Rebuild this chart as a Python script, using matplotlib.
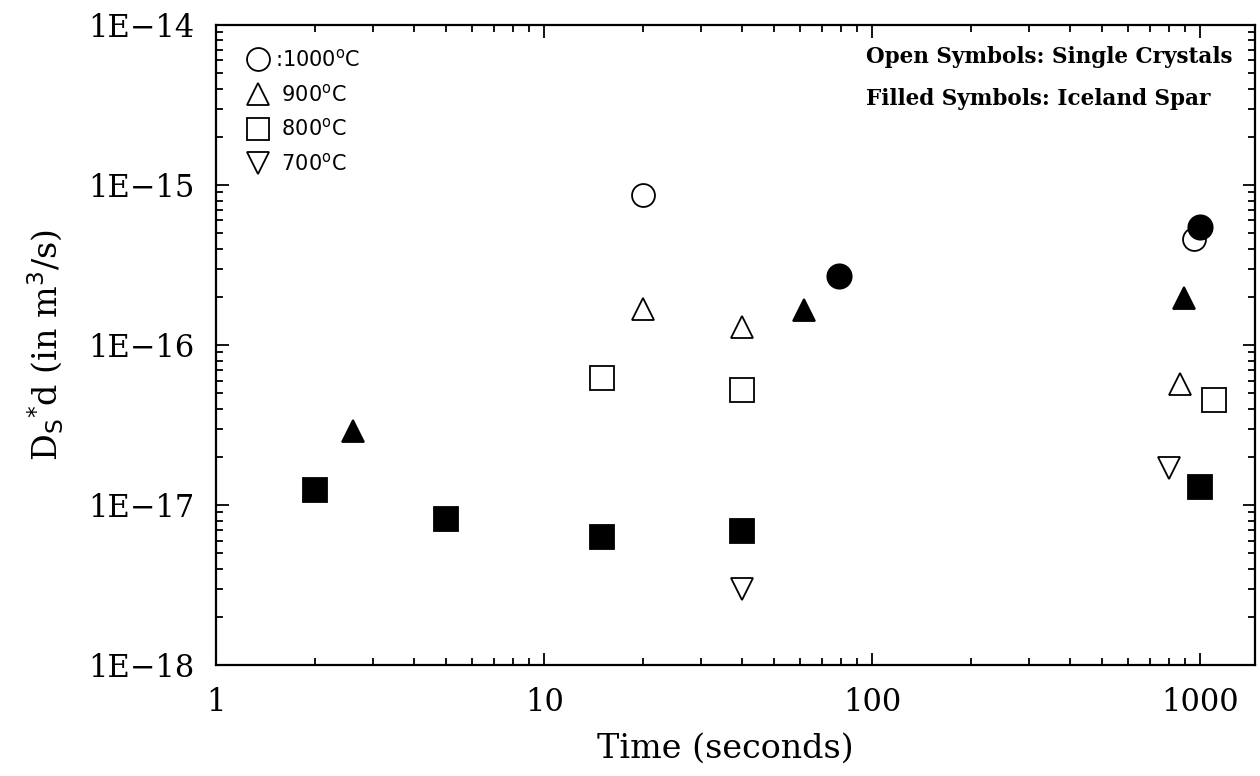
import matplotlib
matplotlib.use("Agg")
import matplotlib.pyplot as plt
from matplotlib.lines import Line2D
from matplotlib.ticker import LogLocator, NullFormatter, FixedLocator, FixedFormatter

# 1000 C
circ_open_t = [20, 955]
circ_open_d = [8.7e-16, 4.6e-16]
circ_fill_t = [79, 1000]
circ_fill_d = [2.7e-16, 5.5e-16]
# 900 C
tri_open_t = [20, 40, 870]
tri_open_d = [1.68e-16, 1.29e-16, 5.7e-17]
tri_fill_t = [2.6, 62, 890]
tri_fill_d = [2.9e-17, 1.66e-16, 1.97e-16]
# 800 C
sq_open_t = [15, 40, 1100]
sq_open_d = [6.2e-17, 5.2e-17, 4.5e-17]
sq_fill_t = [2, 5, 15, 40, 1000]
sq_fill_d = [1.24e-17, 8.2e-18, 6.3e-18, 6.9e-18, 1.3e-17]
# 700 C
dtri_open_t = [40, 800]
dtri_open_d = [3.0e-18, 1.7e-17]

legend_labels = [":1000$^\\mathrm{o}$C", " 900$^\\mathrm{o}$C", " 800$^\\mathrm{o}$C", " 700$^\\mathrm{o}$C"]
xtick_vals = [1, 10, 100, 1000]
xtick_text = ["1", "10", "100", "1000"]
ytick_vals = [1e-18, 1e-17, 1e-16, 1e-15, 1e-14]
ytick_text = ["1E\u221218", "1E\u221217", "1E\u221216", "1E\u221215", "1E\u221214"]

fig = plt.figure(figsize=(12.6, 7.76), dpi=100)
ax = fig.add_axes([0.1718, 0.143, 0.824, 0.8248])

mew = 1.3
ax.plot(circ_open_t, circ_open_d, ls="none", marker="o", ms=16.5, mfc="none", mec="k", mew=mew)
ax.plot(circ_fill_t, circ_fill_d, ls="none", marker="o", ms=17.5, mfc="k", mec="k", mew=mew)
ax.plot(tri_open_t, tri_open_d, ls="none", marker="^", ms=16, mfc="none", mec="k", mew=mew)
ax.plot(tri_fill_t, tri_fill_d, ls="none", marker="^", ms=16.5, mfc="k", mec="k", mew=mew)
ax.plot(sq_open_t, sq_open_d, ls="none", marker="s", ms=17, mfc="none", mec="k", mew=mew)
ax.plot(sq_fill_t, sq_fill_d, ls="none", marker="s", ms=17.5, mfc="k", mec="k", mew=mew)
ax.plot(dtri_open_t, dtri_open_d, ls="none", marker="v", ms=16.5, mfc="none", mec="k", mew=mew)

ax.set_xscale("log")
ax.set_yscale("log")
ax.set_xlim(1, 1465)
ax.set_ylim(1e-18, 1e-14)

ax.xaxis.set_major_locator(FixedLocator(xtick_vals))
ax.xaxis.set_major_formatter(FixedFormatter(xtick_text))
ax.yaxis.set_major_locator(FixedLocator(ytick_vals))
ax.yaxis.set_major_formatter(FixedFormatter(ytick_text))
ax.xaxis.set_minor_locator(LogLocator(base=10, subs=range(2, 10)))
ax.yaxis.set_minor_locator(LogLocator(base=10, subs=range(2, 10)))
ax.xaxis.set_minor_formatter(NullFormatter())
ax.yaxis.set_minor_formatter(NullFormatter())

ax.tick_params(which="both", direction="in", top=True, right=True, width=1.3)
ax.tick_params(which="major", length=9)
ax.tick_params(which="minor", length=5)
ax.tick_params(axis="x", which="major", pad=16, labelsize=22)
ax.tick_params(axis="y", which="major", pad=16, labelsize=22)
for lab in ax.get_xticklabels() + ax.get_yticklabels():
    lab.set_family("DejaVu Serif")
for sp in ax.spines.values():
    sp.set_linewidth(1.6)

ax.set_xlabel("Time (seconds)", family="DejaVu Serif", fontsize=24)
ax.xaxis.set_label_coords(0.49, -0.106)
ax.set_ylabel("D$_\\mathrm{S}$$^{*}$d (in m$^3$/s)", family="DejaVu Serif", fontsize=24)
ax.yaxis.set_label_coords(-0.145, 0.5)

handles = [
    Line2D([], [], ls="none", marker="o", ms=16.5, mfc="none", mec="k", mew=mew),
    Line2D([], [], ls="none", marker="^", ms=16, mfc="none", mec="k", mew=mew),
    Line2D([], [], ls="none", marker="s", ms=16, mfc="none", mec="k", mew=mew),
    Line2D([], [], ls="none", marker="v", ms=16, mfc="none", mec="k", mew=mew),
]
ax.legend(handles, legend_labels, loc="upper left", bbox_to_anchor=(0.022, 0.977),
          frameon=False, handlelength=1.0, handletextpad=0.3, labelspacing=0.62,
          borderaxespad=0, prop={"family": "DejaVu Sans", "size": 15})

ax.text(0.626, 0.95, "Open Symbols: Single Crystals", transform=ax.transAxes,
        family="DejaVu Serif", fontweight="bold", fontsize=15.5, va="center", ha="left")
ax.text(0.626, 0.884, "Filled Symbols: Iceland Spar", transform=ax.transAxes,
        family="DejaVu Serif", fontweight="bold", fontsize=15.5, va="center", ha="left")

fig.savefig("out.png", dpi=100)
